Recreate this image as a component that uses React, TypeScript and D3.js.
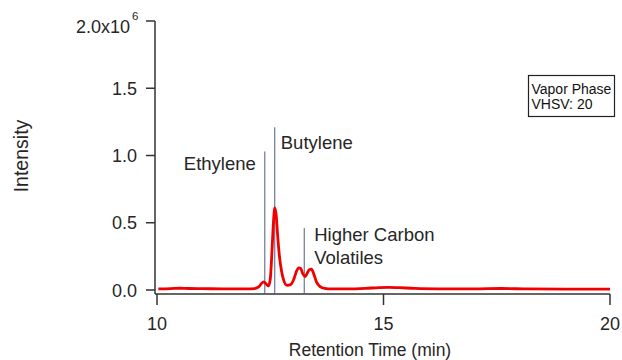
import React, { useRef, useEffect } from 'react'
import * as d3 from 'd3'

// chromatogram trace, intensity in units of 1e6
const retentionTime = [
  10.03, 10.3, 10.5, 10.7, 11.0, 11.5, 12.0, 12.15, 12.25, 12.31, 12.36, 12.41, 12.46,
  12.5, 12.54, 12.57, 12.6, 12.63, 12.66, 12.7, 12.75, 12.8, 12.87, 12.95, 13.02, 13.08,
  13.13, 13.17, 13.22, 13.27, 13.31, 13.36, 13.41, 13.46, 13.52, 13.6, 13.7, 13.85, 14.2,
  14.6, 14.9, 15.1, 15.35, 15.7, 16.2, 17.0, 17.6, 18.2, 19.0, 20.0,
]
const intensity = [
  0.008, 0.01, 0.013, 0.011, 0.01, 0.008, 0.008, 0.011, 0.025, 0.05, 0.06, 0.045, 0.03,
  0.08, 0.3, 0.5, 0.61, 0.56, 0.42, 0.26, 0.14, 0.07, 0.035, 0.04, 0.08, 0.14,
  0.165, 0.16, 0.12, 0.1, 0.12, 0.15, 0.155, 0.12, 0.06, 0.025, 0.012, 0.008, 0.008,
  0.012, 0.018, 0.02, 0.017, 0.012, 0.009, 0.008, 0.011, 0.008, 0.007, 0.007,
]

const markerTime = [12.38, 12.6, 13.25]
const markerTop = [1.03, 1.21, 0.46]

const xTicks = [10, 15, 20]
const yTicks = [0, 0.5, 1.0, 1.5, 2.0]
const legendLines = ['Vapor Phase', 'VHSV: 20']

const font = 'Arial, "Liberation Sans", sans-serif'
const ink = '#262626'

const App: React.FC = () => {
  const svgRef = useRef<SVGSVGElement | null>(null)
  const width = 622
  const height = 360

  useEffect(() => {
    document.body.style.margin = '0'
    if (!svgRef.current) return
    const svg = d3.select(svgRef.current)
    svg.selectAll('*').remove()

    const x = d3.scaleLinear().domain([10, 20]).range([157, 610])
    const y = d3.scaleLinear().domain([0, 2]).range([290, 21])
    const axisX = 155
    const axisY = 294

    // y axis
    svg.append('line')
      .attr('x1', axisX).attr('x2', axisX)
      .attr('y1', y(2)).attr('y2', axisY)
      .attr('stroke', '#333').attr('stroke-width', 1.5)
    yTicks.forEach(t => {
      svg.append('line')
        .attr('x1', axisX - 9).attr('x2', axisX)
        .attr('y1', y(t)).attr('y2', y(t))
        .attr('stroke', '#333').attr('stroke-width', 1.5)
      const label = svg.append('text')
        .attr('x', axisX - 18)
        .attr('y', y(t) + 6.5)
        .attr('text-anchor', 'end')
        .style('font-family', font)
        .style('font-size', '18px')
        .attr('fill', ink)
      if (t === 2) {
        // top label sits a little lower, with the exponent as superscript
        label.attr('x', axisX - 25).attr('y', 33).text('2.0x10')
        svg.append('text')
          .attr('x', axisX - 23)
          .attr('y', 20)
          .style('font-family', font)
          .style('font-size', '11.5px')
          .attr('fill', ink)
          .text('6')
      } else {
        label.text(d3.format('.1f')(t))
      }
    })

    // x axis
    svg.append('line')
      .attr('x1', axisX).attr('x2', x(20))
      .attr('y1', axisY).attr('y2', axisY)
      .attr('stroke', '#333').attr('stroke-width', 1.5)
    xTicks.forEach(t => {
      svg.append('line')
        .attr('x1', x(t)).attr('x2', x(t))
        .attr('y1', axisY).attr('y2', axisY + 11)
        .attr('stroke', '#333').attr('stroke-width', 1.5)
      svg.append('text')
        .attr('x', x(t))
        .attr('y', 330)
        .attr('text-anchor', 'middle')
        .style('font-family', font)
        .style('font-size', '18px')
        .attr('fill', ink)
        .text(String(t))
    })

    // axis titles
    svg.append('text')
      .attr('x', 370)
      .attr('y', 356)
      .attr('text-anchor', 'middle')
      .style('font-family', font)
      .style('font-size', '17.5px')
      .attr('fill', ink)
      .text('Retention Time (min)')

    svg.append('text')
      .attr('transform', 'rotate(-90)')
      .attr('x', -156)
      .attr('y', 28)
      .attr('text-anchor', 'middle')
      .style('font-family', font)
      .style('font-size', '19.5px')
      .attr('fill', ink)
      .text('Intensity')

    // peak marker lines
    markerTime.forEach((t, i) => {
      svg.append('line')
        .attr('x1', x(t)).attr('x2', x(t))
        .attr('y1', y(markerTop[i])).attr('y2', axisY)
        .attr('stroke', '#4d5d7e').attr('stroke-width', 1)
    })

    // trace
    const pts = retentionTime.map((t, i) => [t, intensity[i]] as [number, number])
    const line = d3.line<[number, number]>()
      .x(d => x(d[0]))
      .y(d => y(d[1]))
      .curve(d3.curveMonotoneX)
    svg.append('path')
      .datum(pts)
      .attr('fill', 'none')
      .attr('stroke', '#f00000')
      .attr('stroke-width', 2.8)
      .attr('stroke-linejoin', 'round')
      .attr('d', line)

    // peak labels
    const labelStyle = (sel: d3.Selection<SVGTextElement, unknown, null, undefined>) =>
      sel.style('font-family', font).style('font-size', '18.5px').attr('fill', ink)
    labelStyle(svg.append('text')
      .attr('x', x(markerTime[0]) - 9).attr('y', 170)
      .attr('text-anchor', 'end')
      .text('Ethylene'))
    labelStyle(svg.append('text')
      .attr('x', x(markerTime[1]) + 6).attr('y', 149)
      .text('Butylene'))
    labelStyle(svg.append('text')
      .attr('x', x(markerTime[2]) + 10).attr('y', 241)
      .text('Higher Carbon'))
    labelStyle(svg.append('text')
      .attr('x', x(markerTime[2]) + 10).attr('y', 264)
      .text('Volatiles'))

    // legend box
    svg.append('rect')
      .attr('x', 528.5).attr('y', 75.5)
      .attr('width', 86).attr('height', 41)
      .attr('fill', 'white')
      .attr('stroke', '#222').attr('stroke-width', 1.2)
    legendLines.forEach((s, i) => {
      svg.append('text')
        .attr('x', 531.5)
        .attr('y', 94 + i * 15)
        .style('font-family', font)
        .style('font-size', '14px')
        .attr('fill', '#111')
        .text(s)
    })
  }, [])

  return <svg ref={svgRef} width={width} height={height} style={{ display: 'block' }} />
}

export default App
